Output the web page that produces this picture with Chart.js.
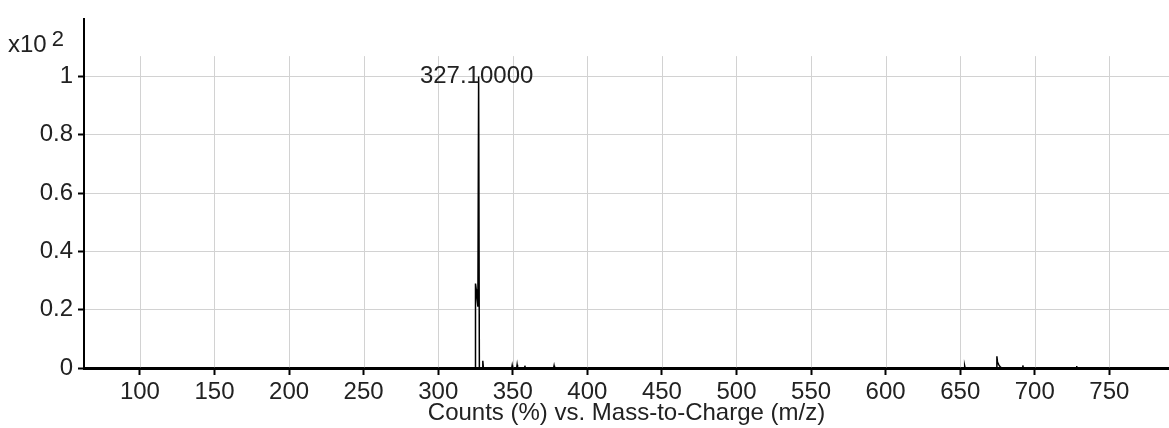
<!DOCTYPE html>
<html>
<head>
<meta charset="utf-8">
<title>Mass spectrum</title>
<script src="https://cdn.jsdelivr.net/npm/chart.js@4/dist/chart.umd.min.js"></script>
<style>
  html, body { margin: 0; padding: 0; background: #fff; }
  #wrap { width: 1169px; height: 428px; }
</style>
</head>
<body>
<div id="wrap"><canvas id="chart"></canvas></div>
<script>
// spectrum profile, counts in units of x10^2 %
const mzValues = [62.5, 324.7, 325.0, 325.5, 326.0, 326.6, 327.1, 327.6,
  329.5, 329.9, 330.3,
  349.3, 349.6, 349.9, 352.6, 352.9, 353.2, 357.8, 358.1, 358.4,
  377.4, 377.7, 378.0,
  652.7, 653.0, 653.3,
  674.3, 674.6, 675.0, 676.0, 677.0, 678.0,
  691.7, 692.0, 692.3,
  727.7, 728.0, 728.3,
  790];
const counts = [0, 0, 0.29, 0.27, 0.24, 0.21, 1.0, 0,
  0, 0.025, 0,
  0, 0.009, 0, 0, 0.011, 0, 0, 0.008, 0,
  0, 0.008, 0,
  0, 0.007, 0,
  0, 0.04, 0.02, 0.01, 0.003, 0,
  0, 0.009, 0,
  0, 0.007, 0,
  0];

const xTicks = [100, 150, 200, 250, 300, 350, 400, 450, 500, 550, 600, 650, 700, 750];
const yTicks = [0, 0.2, 0.4, 0.6, 0.8, 1];
const yTickLabels = ["0", "0.2", "0.4", "0.6", "0.8", "1"];

const peakLabelMz = 327.1;
const peakLabelValue = 1.0;
const peakLabelText = "327.10000";
const xTitle = "Counts (%) vs. Mass-to-Charge (m/z)";
const scaleNote = "x10";
const scaleExp = "2";

const fontFamily = "'Liberation Sans', Arial, sans-serif";
const textColor = "#222";
const gridColor = "#d2d2d2";
const gridTopValue = 1.07;

const spectrum = mzValues.map((m, i) => ({ x: m, y: counts[i] }));

// vertical grid (stops short of the axis top) and text annotations
const extras = {
  id: "extras",
  beforeDatasetsDraw(chart) {
    const { ctx, scales: { x, y } } = chart;
    ctx.save();
    ctx.strokeStyle = gridColor;
    ctx.lineWidth = 1;
    xTicks.forEach(v => {
      const px = Math.round(x.getPixelForValue(v)) + 0.5;
      ctx.beginPath();
      ctx.moveTo(px, y.getPixelForValue(gridTopValue));
      ctx.lineTo(px, y.getPixelForValue(0));
      ctx.stroke();
    });
    ctx.restore();
  },
  afterDraw(chart) {
    const { ctx, scales: { x, y } } = chart;
    ctx.save();
    ctx.fillStyle = textColor;
    ctx.font = "24px " + fontFamily;
    ctx.textAlign = "center";
    ctx.textBaseline = "middle";
    ctx.fillText(peakLabelText, x.getPixelForValue(peakLabelMz) - 2, y.getPixelForValue(peakLabelValue));

    ctx.textAlign = "left";
    ctx.textBaseline = "alphabetic";
    ctx.fillText(scaleNote, 8, 52);
    const w = ctx.measureText(scaleNote).width;
    ctx.font = "22px " + fontFamily;
    ctx.fillText(scaleExp, 8 + w + 5, 46);
    ctx.restore();
  }
};

new Chart(document.getElementById("chart"), {
  type: "line",
  data: {
    datasets: [{
      data: spectrum,
      borderColor: "#000",
      borderWidth: 1.5,
      pointRadius: 0,
      tension: 0,
      fill: false
    }]
  },
  options: {
    responsive: true,
    maintainAspectRatio: false,
    animation: false,
    devicePixelRatio: 1,
    layout: { padding: { top: 14, right: 0, left: 0, bottom: 0 } },
    plugins: { legend: { display: false }, tooltip: { enabled: false } },
    scales: {
      x: {
        type: "linear",
        min: 62.5,
        max: 790,
        afterBuildTicks: s => { s.ticks = xTicks.map(v => ({ value: v })); },
        afterFit: s => { s.height = 60; },
        ticks: {
          color: textColor,
          font: { family: fontFamily, size: 24 },
          padding: 3,
          maxRotation: 0,
          autoSkip: false,
          callback: v => String(v)
        },
        grid: {
          drawOnChartArea: false,
          drawTicks: true,
          tickLength: 7,
          tickColor: "#000",
          tickWidth: 2
        },
        border: { color: "#000", width: 3 },
        title: {
          display: true,
          text: xTitle,
          color: textColor,
          font: { family: fontFamily, size: 24 },
          padding: { top: 0, bottom: 0 }
        }
      },
      y: {
        min: 0,
        max: 1.196,
        afterBuildTicks: s => { s.ticks = yTicks.map(v => ({ value: v })); },
        afterFit: s => { s.width = 84; },
        ticks: {
          color: textColor,
          font: { family: fontFamily, size: 24 },
          padding: 5,
          callback: (v, i) => yTickLabels[i]
        },
        grid: {
          color: gridColor,
          tickColor: "#000",
          tickLength: 6,
          tickWidth: 2
        },
        border: { color: "#000", width: 2 }
      }
    }
  },
  plugins: [extras]
});
</script>
</body>
</html>
